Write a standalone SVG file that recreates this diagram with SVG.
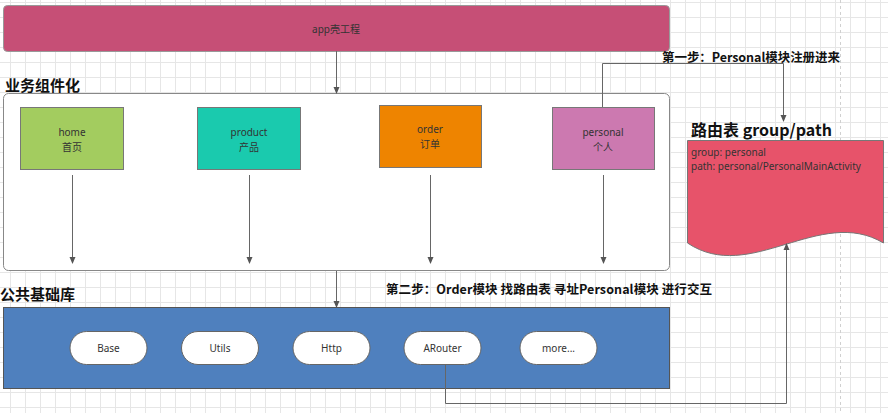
<svg xmlns="http://www.w3.org/2000/svg" width="888" height="413" viewBox="0 0 888 413">
<defs>
<pattern id="grid" width="15" height="15" patternUnits="userSpaceOnUse" x="10" y="2">
<path d="M0,0.5 H15 M0.5,0 V15" fill="none" stroke="#e6e6e6" stroke-width="1"/>
</pattern>
<marker id="arr" markerWidth="8" markerHeight="8" refX="6" refY="3.5" orient="auto" markerUnits="userSpaceOnUse">
<path d="M0,0.5 L7,3.5 L0,6.5 Z" fill="#555"/>
</marker>
<style>
.t{font-family:"Noto Sans","Noto Sans CJK SC",sans-serif;font-size:10px;fill:#333;}
.tc{text-anchor:middle;}
.h{font-family:"Noto Sans CJK SC","Noto Sans",sans-serif;font-weight:bold;fill:#111;}
.box{stroke:#777;stroke-width:1;}
.pill{fill:#fff;stroke:#666;stroke-width:1;}
.ln{fill:none;stroke:#666;stroke-width:1;marker-end:url(#arr);}
</style>
</defs>
<rect width="888" height="413" fill="#fff"/>
<rect width="888" height="413" fill="url(#grid)"/>
<line x1="840.5" y1="0" x2="840.5" y2="413" stroke="#d0d0d0" stroke-dasharray="3,3"/>

<g id="app">
<rect x="3.5" y="5.5" width="666" height="46" rx="4" fill="#C64F76" stroke="#999"/>
<text class="t tc" x="336" y="33">app壳工程</text>
</g>

<g id="business">
<text class="h" x="5" y="91" font-size="15">业务组件化</text>
<rect x="3.5" y="93.5" width="666" height="177" rx="5" fill="#fff" stroke="#888"/>
</g>

<g id="home">
<rect class="box" x="20.5" y="107.5" width="103" height="62" fill="#A3CC5F"/>
<text class="t tc" x="72" y="136">home</text>
<text class="t tc" x="72" y="151">首页</text>
</g>
<g id="product">
<rect class="box" x="197.5" y="107.5" width="103" height="62" fill="#1ACAAE"/>
<text class="t tc" x="249" y="136">product</text>
<text class="t tc" x="249" y="151">产品</text>
</g>
<g id="order">
<rect class="box" x="379.5" y="105.5" width="102" height="62" fill="#EE8400"/>
<text class="t tc" x="430" y="133">order</text>
<text class="t tc" x="430" y="148">订单</text>
</g>
<g id="personal">
<rect class="box" x="552.5" y="107.5" width="102" height="62" fill="#CC79B0"/>
<text class="t tc" x="603" y="136">personal</text>
<text class="t tc" x="603" y="151">个人</text>
</g>

<g id="common">
<text class="h" x="0" y="300" font-size="15">公共基础库</text>
<rect x="3.5" y="307.5" width="666" height="81" fill="#4F80BE" stroke="#555"/>
</g>
<g id="base"><rect class="pill" x="70" y="331.5" width="77" height="33" rx="16.5"/><text class="t tc" x="108.5" y="352">Base</text></g>
<g id="utils"><rect class="pill" x="181.5" y="331.5" width="77" height="33" rx="16.5"/><text class="t tc" x="220" y="352">Utils</text></g>
<g id="http"><rect class="pill" x="293" y="331.5" width="77" height="33" rx="16.5"/><text class="t tc" x="331.5" y="352">Http</text></g>
<g id="arouter"><rect class="pill" x="404" y="331.5" width="77" height="33" rx="16.5"/><text class="t tc" x="442.5" y="352">ARouter</text></g>
<g id="more"><rect class="pill" x="520" y="331.5" width="77" height="33" rx="16.5"/><text class="t tc" x="558.5" y="352">more...</text></g>

<g id="routetable">
<text class="h" x="691" y="136" font-size="16">路由表 group/path</text>
<path d="M687.5,140.5 H883.5 V243 C820,205 750,285 687.5,243 Z" fill="#E7536A" stroke="#777"/>
<text class="t" x="691" y="156">group: personal</text>
<text class="t" x="691" y="170">path: personal/PersonalMainActivity</text>
</g>

<g id="labels">
<text class="h" x="662" y="62" font-size="12.5" textLength="178" lengthAdjust="spacing">第一步：Personal模块注册进来</text>
<text class="h" x="386" y="294" font-size="12.5" textLength="326" lengthAdjust="spacing">第二步：Order模块 找路由表 寻址Personal模块 进行交互</text>
</g>

<g id="connectors">
<path class="ln" d="M336.5,51 V93"/>
<path class="ln" d="M72.5,175 V263"/>
<path class="ln" d="M249.5,175 V263"/>
<path class="ln" d="M430.5,175 V263"/>
<path class="ln" d="M603.5,175 V263"/>
<path class="ln" d="M336.5,271 V307"/>
<path class="ln" d="M602.5,107 V63.5 H783.5 V121"/>
<path class="ln" d="M445.5,365 V403.5 H786.5 V244"/>
</g>
</svg>
